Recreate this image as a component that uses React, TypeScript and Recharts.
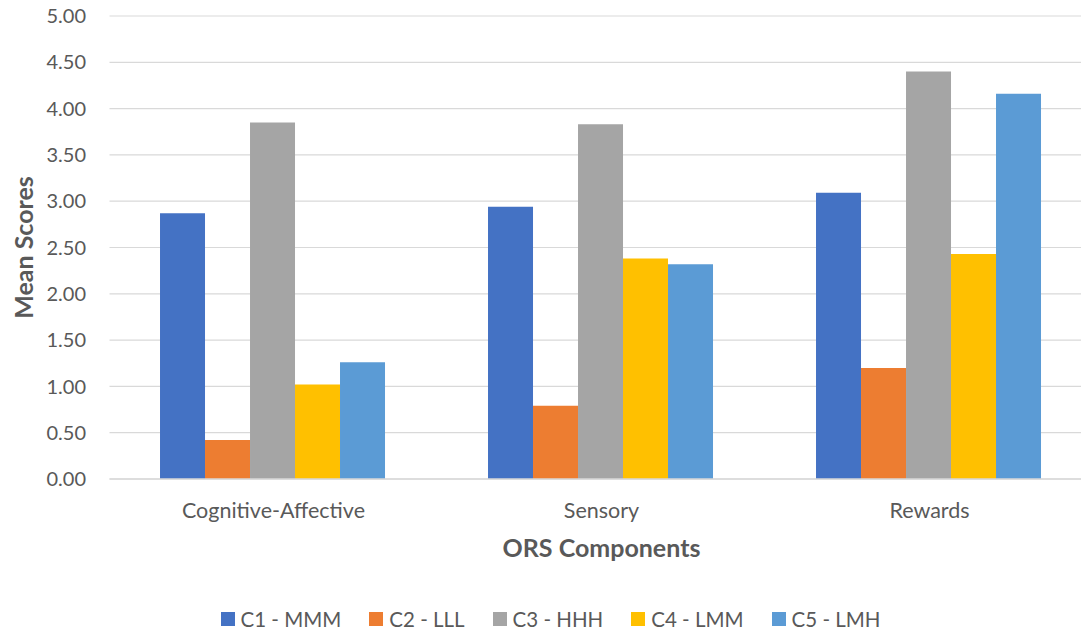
import React from 'react';
import { BarChart, Bar, XAxis, YAxis, CartesianGrid, Legend, Label } from 'recharts';

// ORS component categories
const categories = ['Cognitive-Affective', 'Sensory', 'Rewards'];

// Mean scores per cluster, one value per category
const c1Mmm = [2.87, 2.94, 3.09];
const c2Lll = [0.42, 0.79, 1.2];
const c3Hhh = [3.85, 3.83, 4.4];
const c4Lmm = [1.02, 2.38, 2.43];
const c5Lmh = [1.26, 2.32, 4.16];

const yTicks = [0, 0.5, 1, 1.5, 2, 2.5, 3, 3.5, 4, 4.5, 5];

const seriesNames = ['C1 - MMM', 'C2 - LLL', 'C3 - HHH', 'C4 - LMM', 'C5 - LMH'];
const seriesKeys = ['c1', 'c2', 'c3', 'c4', 'c5'];
const seriesColors = ['#4472C4', '#ED7D31', '#A5A5A5', '#FFC000', '#5B9BD5'];

const data = categories.map((name, i) => ({
  name,
  c1: c1Mmm[i],
  c2: c2Lll[i],
  c3: c3Hhh[i],
  c4: c4Lmm[i],
  c5: c5Lmh[i],
}));

const FONT = 'Lato, "Open Sans", sans-serif';
const TEXT = '#595959';

const renderLegend = () => (
  <div
    style={{
      display: 'flex',
      justifyContent: 'center',
      alignItems: 'center',
      fontFamily: FONT,
      fontSize: 20.5,
      color: TEXT,
    }}
  >
    {seriesNames.map((n, i) => (
      <div
        key={n}
        style={{
          display: 'flex',
          alignItems: 'center',
          marginRight: i < seriesNames.length - 1 ? 28 : 0,
        }}
      >
        <span
          style={{
            display: 'inline-block',
            width: 14,
            height: 14,
            background: seriesColors[i],
            marginRight: 6,
          }}
        />
        <span>{n}</span>
      </div>
    ))}
  </div>
);

export default function App() {
  return (
    <div style={{ margin: -8, width: 1089, height: 636, overflow: 'hidden', background: '#fff' }}>
      <BarChart
        width={1101}
        height={636}
        data={data}
        margin={{ top: 16, right: 7.5, left: 0, bottom: 97 }}
        barCategoryGap="15.4%"
        barGap={0}
      >
        <CartesianGrid vertical={false} stroke="#D9D9D9" strokeWidth={1.2} />
        <XAxis
          dataKey="name"
          height={60}
          tickLine={false}
          tickSize={0}
          tickMargin={24}
          axisLine={{ stroke: '#D9D9D9', strokeWidth: 1.5 }}
          tick={{ fill: TEXT, fontSize: 21.5, fontFamily: FONT }}
        >
          <Label
            content={({ viewBox }: any) => (
              <text
                x={viewBox.x + viewBox.width / 2}
                y={viewBox.y + 78}
                textAnchor="middle"
                fill={TEXT}
                fontFamily={FONT}
                fontSize={25}
                fontWeight="bold"
              >
                ORS Components
              </text>
            )}
          />
        </XAxis>
        <YAxis
          width={109.5}
          domain={[0, 5]}
          ticks={yTicks}
          interval={0}
          tickFormatter={(v: number) => v.toFixed(2)}
          axisLine={false}
          tickLine={false}
          tickSize={0}
          tickMargin={23.5}
          tick={{ fill: TEXT, fontSize: 20, fontFamily: FONT }}
        >
          <Label
            content={({ viewBox }: any) => {
              const cx = viewBox.x + 22.5;
              const cy = viewBox.y + viewBox.height / 2;
              return (
                <text
                  x={cx}
                  y={cy}
                  transform={`rotate(-90, ${cx}, ${cy})`}
                  textAnchor="middle"
                  dominantBaseline="central"
                  fill={TEXT}
                  fontFamily={FONT}
                  fontSize={25}
                  fontWeight="bold"
                >
                  Mean Scores
                </text>
              );
            }}
          />
        </YAxis>
        <Legend
          verticalAlign="middle"
          content={renderLegend}
          wrapperStyle={{ top: 607, left: 0, width: 1101 }}
        />
        {seriesKeys.map((k, i) => (
          <Bar
            key={k}
            dataKey={k}
            name={seriesNames[i]}
            fill={seriesColors[i]}
            isAnimationActive={false}
          />
        ))}
      </BarChart>
    </div>
  );
}
